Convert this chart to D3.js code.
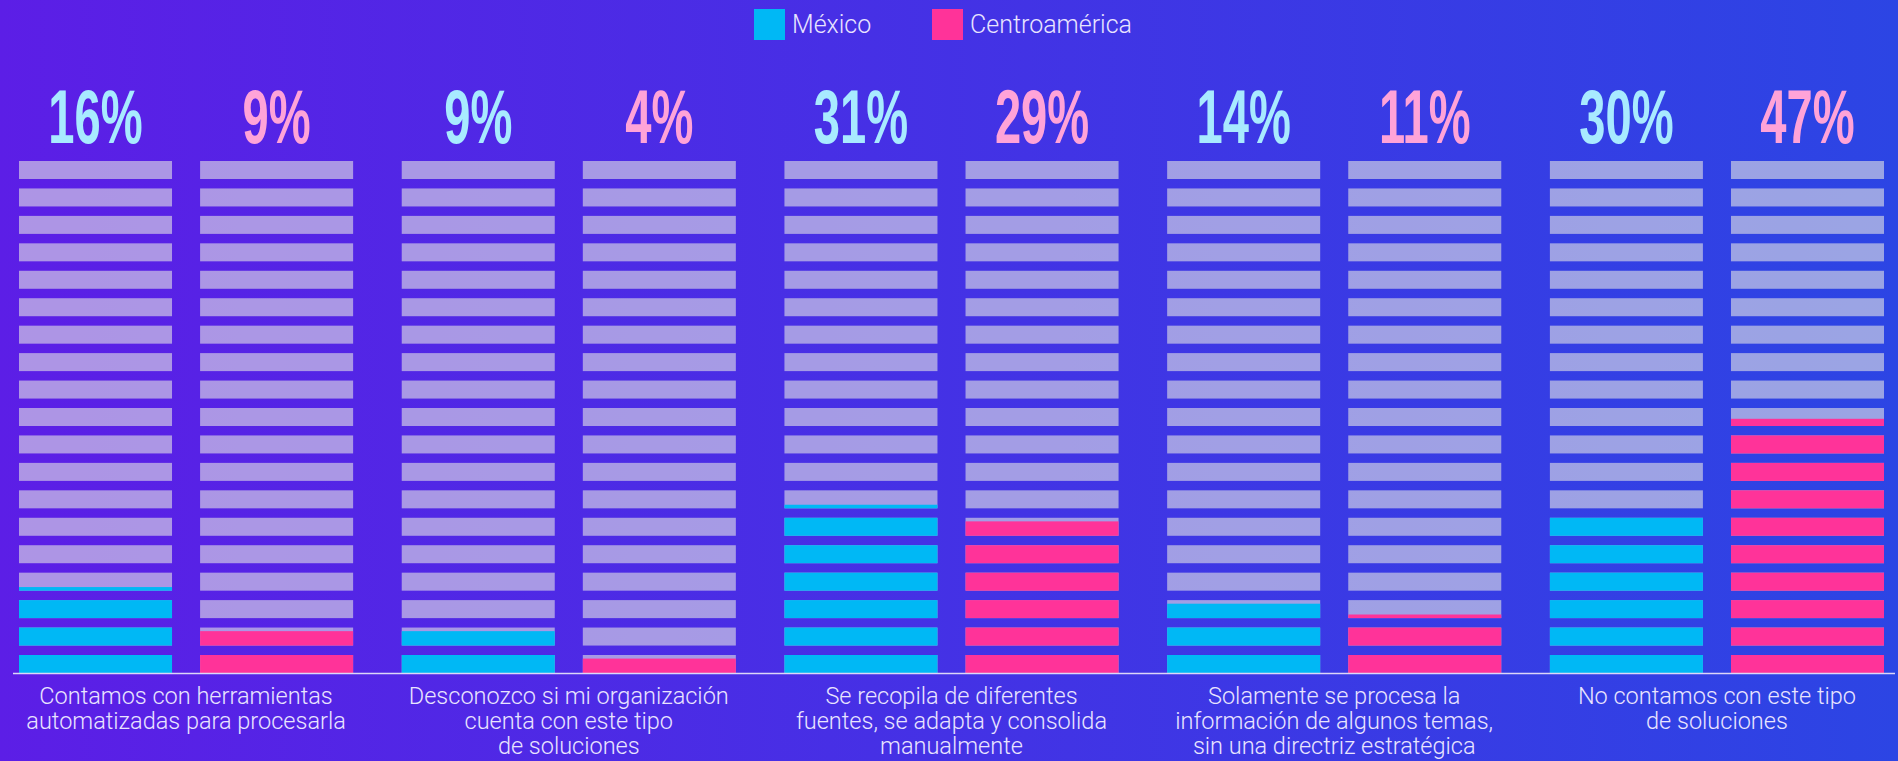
<!DOCTYPE html>
<html>
<head>
<meta charset="utf-8">
<script src="https://cdn.jsdelivr.net/npm/d3@7"></script>
<style>
  html, body { margin: 0; padding: 0; background: #4432e4; }
  svg { display: block; }
</style>
</head>
<body>
<svg id="chart" width="1898" height="761"></svg>
<script>
// ---- data ----
const categories = [
  "Contamos con herramientas\nautomatizadas para procesarla",
  "Desconozco si mi organización\ncuenta con este tipo\nde soluciones",
  "Se recopila de diferentes\nfuentes, se adapta y consolida\nmanualmente",
  "Solamente se procesa la\ninformación de algunos temas,\nsin una directriz estratégica",
  "No contamos con este tipo\nde soluciones"
];
const seriesNames = ["México", "Centroamérica"];
const mexico = [16, 9, 31, 14, 30];
const centroamerica = [9, 4, 29, 11, 47];
const barsPerColumn = 19;     // number of stacked strips per column
const percentPerBar = 5;      // each strip stands for 5 %

// ---- styles ----
const colors = { "México": "#00b8f5", "Centroamérica": "#ff3399" };
const labelColors = { "México": "#a8eaff", "Centroamérica": "#ffa3d8" };
const emptyFill = "rgba(228,228,228,0.6)";
const textColor = "#e9e4ff";

const W = 1898, H = 761;
const svg = d3.select("#chart");

// background gradient
const defs = svg.append("defs");
const grad = defs.append("linearGradient").attr("id", "bg")
  .attr("x1", 0).attr("y1", 0).attr("x2", 1).attr("y2", 0);
grad.append("stop").attr("offset", 0).attr("stop-color", "#5c1ee6");
grad.append("stop").attr("offset", 1).attr("stop-color", "#2c45e4");
svg.append("rect").attr("width", W).attr("height", H).attr("fill", "url(#bg)");

// scales
const x0 = d3.scaleBand().domain(categories).range([19, 1884]).paddingInner(0.127).paddingOuter(0);
const x1 = d3.scaleBand().domain(seriesNames).range([0, x0.bandwidth()]).paddingInner(0.155);
const yBar = d3.scaleBand().domain(d3.range(barsPerColumn)).range([673, 161]).paddingInner(0.344).paddingOuter(0);
const units = d3.scaleLinear().domain([0, 100]).range([0, 100 / percentPerBar]);

const data = categories.map((c, i) => ({
  category: c,
  values: [
    { series: "México", value: mexico[i] },
    { series: "Centroamérica", value: centroamerica[i] }
  ]
}));

const groups = svg.append("g").selectAll("g.group")
  .data(data).join("g")
  .attr("class", "group")
  .attr("transform", d => `translate(${x0(d.category)},0)`);

const cols = groups.selectAll("g.col")
  .data(d => d.values).join("g")
  .attr("class", "col")
  .attr("transform", d => `translate(${x1(d.series)},0)`);

const bh = yBar.bandwidth();
const bw = x1.bandwidth();

cols.each(function(d) {
  const g = d3.select(this);
  const u = units(d.value);
  const strips = d3.range(barsPerColumn).map(i => ({ i, frac: Math.max(0, Math.min(1, u - i)) }));
  g.selectAll("rect.empty").data(strips).join("rect")
    .attr("class", "empty")
    .attr("x", 0).attr("width", bw)
    .attr("y", s => yBar(s.i)).attr("height", bh)
    .attr("fill", emptyFill);
  g.selectAll("rect.fill").data(strips.filter(s => s.frac > 0)).join("rect")
    .attr("class", "fill")
    .attr("x", 0).attr("width", bw)
    .attr("y", s => yBar(s.i) + bh * (1 - s.frac))
    .attr("height", s => bh * s.frac)
    .attr("fill", colors[d.series]);
  g.append("text")
    .attr("transform", `translate(${bw / 2},143) scale(0.62,1)`)
    .attr("text-anchor", "middle")
    .attr("font-family", "'Liberation Sans', Arial, sans-serif")
    .attr("font-weight", 700)
    .attr("font-size", 76)
    .attr("fill", labelColors[d.series])
    .text(d.value + "%");
});

// baseline
svg.append("line")
  .attr("x1", 13).attr("x2", 1895)
  .attr("y1", 673.5).attr("y2", 673.5)
  .attr("stroke", "#dcd6f8").attr("stroke-width", 1.5);

// category labels
groups.append("text")
  .attr("text-anchor", "middle")
  .attr("font-family", "Roboto, 'Open Sans', sans-serif")
  .attr("font-weight", 300)
  .attr("font-size", 23.5)
  .attr("fill", textColor)
  .selectAll("tspan")
  .data(d => d.category.split("\n")).join("tspan")
  .attr("x", x0.bandwidth() / 2)
  .attr("y", (l, i) => 704 + i * 25)
  .text(l => l);

// legend
const legend = svg.append("g");
const legendX = [754, 932];
seriesNames.forEach((s, i) => {
  legend.append("rect").attr("x", legendX[i]).attr("y", 9).attr("width", 31).attr("height", 31)
    .attr("fill", colors[s]);
  legend.append("text").attr("x", legendX[i] + 38).attr("y", 33)
    .attr("font-family", "Roboto, 'Open Sans', sans-serif")
    .attr("font-weight", 300)
    .attr("font-size", 25)
    .attr("fill", textColor)
    .text(s);
});
</script>
</body>
</html>
